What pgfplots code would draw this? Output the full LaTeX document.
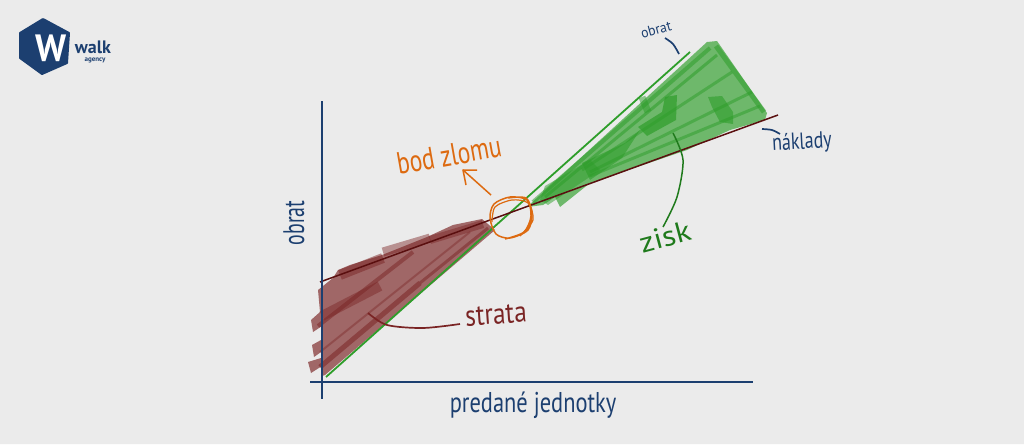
\documentclass[border=0pt]{standalone}
\usepackage{pgfplots}
\usepackage{graphicx}
\usepackage{fontspec}
\pgfplotsset{compat=1.18}
\setmainfont{PT Sans}
\newcommand{\hand}[2]{\fontsize{#1}{#1}\selectfont #2}
\definecolor{bg}{HTML}{EBEBEB}
\definecolor{navy}{HTML}{1C3F70}
\definecolor{red1}{HTML}{7A2424}
\definecolor{redl}{HTML}{5A0F0F}
\definecolor{grn}{HTML}{2E9E2A}
\definecolor{grnd}{HTML}{1F7A1C}
\definecolor{org}{HTML}{DD6A10}
\begin{document}
\begin{tikzpicture}
\begin{axis}[
  scale only axis, width=1024pt, height=444pt,
  xmin=0, xmax=1024, ymin=0, ymax=444, y dir=reverse,
  hide axis, clip=true,
  every axis plot/.append style={no markers, line cap=butt, line join=round},
]
% background
\addplot[fill=bg, draw=none] coordinates {(0,0) (1024,0) (1024,444) (0,444)} \closedcycle;
% logo
\addplot[fill=navy, draw=navy, line width=2pt] coordinates {(43,19) (69,33) (67,63) (42,74) (20,58) (20,33) (43,19)};
% red area
\addplot[fill=red1, fill opacity=0.66, draw=none] coordinates {(322,376) (325,375) (495,230) (482,219) (453,225) (427,237) (382,255) (350,265) (338,270) (333,278) (318,290) (320,312) (311,320) (313,332) (322,326) (321,340) (312,345) (314,357) (321,352) (321,358) (308,362) (311,373) (322,366)};
\addplot[red1, line width=5pt, opacity=0.55] coordinates {(320,367) (420,283)};
\addplot[red1, line width=3pt, opacity=0.5] coordinates {(420,283) (488,228)};
\addplot[red1, line width=4pt, opacity=0.5] coordinates {(318,326) (413,252)};
\addplot[red1, line width=2pt, opacity=0.4] coordinates {(320,352) (470,232)};
\addplot[red1, line width=10pt, opacity=0.45] coordinates {(322,316) (380,286)};
\addplot[red1, line width=10pt, opacity=0.5] coordinates {(340,275) (383,258)};
\addplot[red1, line width=9pt, opacity=0.45] coordinates {(383,252) (430,238)};
\addplot[red1, line width=8pt, opacity=0.45] coordinates {(430,240) (483,224)};
% green area
\addplot[fill=grn, fill opacity=0.66, draw=none] coordinates {(527,207) (707,42) (717,41) (767,113) (765,120) (730,130) (687,150) (590,183) (560,207) (555,197) (543,205)};
\addplot[grn, line width=4pt, opacity=0.55] coordinates {(533,202) (710,48)};
\addplot[grn, line width=3pt, opacity=0.55] coordinates {(545,197) (717,55)};
\addplot[grn, line width=3pt, opacity=0.5] coordinates {(582,170) (732,72)};
\addplot[grn, line width=3pt, opacity=0.5] coordinates {(590,172) (752,92)};
\addplot[grn, line width=3pt, opacity=0.5] coordinates {(590,176) (760,106)};
\addplot[grn, line width=5pt, opacity=0.55] coordinates {(716,46) (764,112)};
\addplot[fill=grn, draw=none, fill opacity=0.7] coordinates {(638,127) (647,136) (676,120) (677,95) (665,97) (662,112)};
\addplot[fill=grn, draw=none, fill opacity=0.6] coordinates {(582,163) (590,180) (622,158) (640,130) (625,143)};
\addplot[fill=grn, draw=none, fill opacity=0.6] coordinates {(708,97) (722,96) (733,112) (733,124) (720,122) (712,107)};
\addplot[grn, line width=7pt, opacity=0.5] coordinates {(642,97) (648,112)};
\addplot[fill=grn, draw=none, fill opacity=0.5] coordinates {(540,200) (545,186) (590,160) (600,170) (548,205)};
% curves
\addplot[grn, line width=1.8pt] coordinates {(326,377) (690,52)};
\addplot[redl, line width=1.5pt] coordinates {(320,282) (778,115)};
% axes
\addplot[navy, line width=1.3pt] coordinates {(322,101) (322,399)};
\addplot[navy, line width=1.3pt] coordinates {(310,382) (753,382)};
% leaders
\addplot[red1, line width=1.7pt, smooth] coordinates {(368,313) (387,325) (423,328) (460,324)};
\addplot[grnd, line width=1.5pt, smooth] coordinates {(673,133) (683,160) (677,197) (663,227)};
\addplot[navy, line width=1.7pt, smooth] coordinates {(665,38) (673,44) (679,54)};
\addplot[navy, line width=1.7pt, smooth] coordinates {(762,129) (772,130) (780,134)};
\addplot[org, line width=1.5pt] coordinates {(491,195) (463,170)};
\addplot[org, line width=1.5pt] coordinates {(477,170) (463,170) (466,185)};
% scribbled circle
\addplot[org, line width=1.5pt, smooth] coordinates {(508,198) (526,198) (532,213) (528,230) (510,238) (496,234) (490,218) (494,204) (510,197) (527,200) (531,216) (524,232) (505,239)};
\addplot[org, line width=1.2pt, smooth] coordinates {(492,222) (495,207) (512,200) (528,203) (533,220) (520,236)};
% labels
\node[navy,rotate=90] at (axis cs:294,223) {\scalebox{0.9}[1.35]{\hand{22}{obrat}}};
\node[navy] at (axis cs:533,405) {\scalebox{1.02}[1.3]{\hand{22}{predané jednotky}}};
\node[org,rotate=10] at (axis cs:449,155) {\scalebox{1.02}[1.35]{\hand{23}{bod zlomu}}};
\node[red1,rotate=4] at (axis cs:496,315) {\scalebox{1.1}[1.3]{\hand{23}{strata}}};
\node[grnd,rotate=15] at (axis cs:665,237) {\scalebox{1.4}[1.25]{\hand{23}{zisk}}};
\node[navy,rotate=3] at (axis cs:802,143) {\scalebox{1}[1.3]{\hand{18}{náklady}}};
\node[navy,rotate=15] at (axis cs:656,30) {\scalebox{1.15}[1.2]{\hand{12}{obrat}}};
% logo text
\node[white,inner sep=0pt] at (axis cs:51,48) {\fontsize{38}{38}\selectfont\bfseries\scalebox{0.95}[1]{W}};
\node[navy,inner sep=0pt] at (axis cs:93,47) {\fontsize{18}{18}\selectfont\bfseries walk};
\node[navy,inner sep=0pt] at (axis cs:95,60) {\fontsize{7}{7}\selectfont\bfseries agency};
\end{axis}
\end{tikzpicture}
\end{document}
